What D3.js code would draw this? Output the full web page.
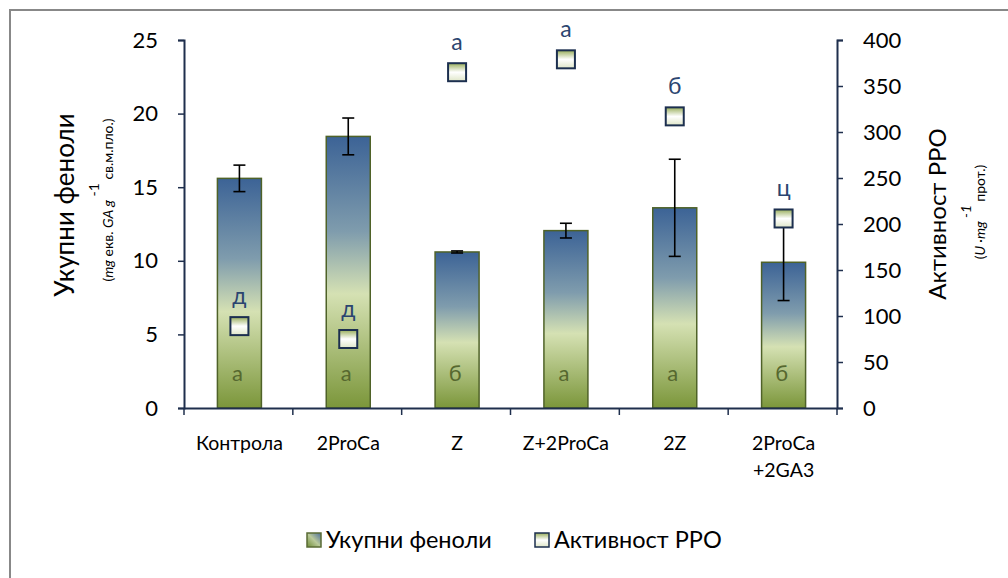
<!DOCTYPE html>
<html>
<head>
<meta charset="utf-8">
<script src="https://cdn.jsdelivr.net/npm/d3@7"></script>
<style>
  body { margin: 0; background: #fff; }
  svg { font-family: Lato, "Open Sans", sans-serif; }
</style>
</head>
<body>
<div id="chart"></div>
<script>
// Data
var categories = ["Контрола", "2ProCa", "Z", "Z+2ProCa", "2Z", "2ProCa\n+2GA3"];
var phenols = [15.6, 18.45, 10.6, 12.05, 13.6, 9.9];
var phenolsErr = [0.9, 1.25, 0.07, 0.5, 3.3, 2.6];
var phenolsLetters = ["а", "а", "б", "а", "а", "б"];
var ppo = [89, 75, 365, 379, 317, 206];
var ppoLetters = ["д", "д", "а", "а", "б", "ц"];
var leftTicks = [0, 5, 10, 15, 20, 25];
var rightTicks = [0, 50, 100, 150, 200, 250, 300, 350, 400];

var W = 1008, H = 578;
var plot = { left: 184, right: 837, top: 40, bottom: 408 };
var axisColor = "#1f2f4d";

var svg = d3.select("#chart").append("svg")
  .attr("width", W).attr("height", H);

// gradients
var defs = svg.append("defs");
var barGrad = defs.append("linearGradient").attr("id", "barGrad")
  .attr("x1", 0).attr("y1", 0).attr("x2", 0).attr("y2", 1);
[["0%", "#3c6396"], ["35%", "#7f9cad"], ["58%", "#d5e1b3"], ["100%", "#7b963a"]]
  .forEach(function (s) { barGrad.append("stop").attr("offset", s[0]).attr("stop-color", s[1]); });

var legGrad = defs.append("linearGradient").attr("id", "legGrad")
  .attr("x1", 0).attr("y1", 1).attr("x2", 1).attr("y2", 0);
[["0%", "#6f8c36"], ["50%", "#b9c99a"], ["100%", "#4d6f9c"]]
  .forEach(function (s) { legGrad.append("stop").attr("offset", s[0]).attr("stop-color", s[1]); });

var mkGrad = defs.append("linearGradient").attr("id", "mkGrad")
  .attr("x1", 0).attr("y1", 0).attr("x2", 0).attr("y2", 1);
[["0%", "#98ad5a"], ["50%", "#ffffff"], ["100%", "#dfe6c8"]]
  .forEach(function (s) { mkGrad.append("stop").attr("offset", s[0]).attr("stop-color", s[1]); });

// outer frame
svg.append("rect")
  .attr("x", 10).attr("y", 10).attr("width", W).attr("height", H)
  .attr("fill", "none").attr("stroke", "#888").attr("stroke-width", 2);

// scales
var x = d3.scaleBand().domain(categories).range([plot.left, plot.right]).paddingInner(0).paddingOuter(0);
var yL = d3.scaleLinear().domain([0, 25]).range([plot.bottom, plot.top]);
var yR = d3.scaleLinear().domain([0, 400]).range([plot.bottom, plot.top]);
var barW = 44;
function cx(i) { return x(categories[i]) + x.bandwidth() / 2 + 1; }

// bars
svg.selectAll("rect.bar").data(phenols).enter().append("rect")
  .attr("class", "bar")
  .attr("x", function (d, i) { return cx(i) - barW / 2; })
  .attr("y", function (d) { return yL(d); })
  .attr("width", barW)
  .attr("height", function (d) { return yL(0) - yL(d); })
  .attr("fill", "url(#barGrad)")
  .attr("stroke", "#4f6228").attr("stroke-width", 1.5);

// error bars
svg.selectAll("g.err").data(phenols).enter().append("g")
  .attr("stroke", "#000").attr("stroke-width", 1.6)
  .each(function (d, i) {
    var g = d3.select(this), c = cx(i);
    var lo = yL(d - phenolsErr[i]), hi = yL(d + phenolsErr[i]);
    g.append("line").attr("x1", c).attr("x2", c).attr("y1", lo).attr("y2", hi);
    g.append("line").attr("x1", c - 6).attr("x2", c + 6).attr("y1", lo).attr("y2", lo);
    g.append("line").attr("x1", c - 6).attr("x2", c + 6).attr("y1", hi).attr("y2", hi);
  });

// letters in bars
svg.selectAll("text.barLetter").data(phenolsLetters).enter().append("text")
  .attr("x", function (d, i) { return cx(i) - 2; })
  .attr("y", yL(0) - 27)
  .attr("text-anchor", "middle")
  .attr("font-size", 22)
  .attr("fill", "#56682f")
  .text(function (d) { return d; });

// PPO markers
var mk = 18;
svg.selectAll("rect.mk").data(ppo).enter().append("rect")
  .attr("x", function (d, i) { return cx(i) - mk / 2; })
  .attr("y", function (d) { return yR(d) - mk / 2; })
  .attr("width", mk).attr("height", mk)
  .attr("fill", "url(#mkGrad)")
  .attr("stroke", "#1c2f4f").attr("stroke-width", 2);

svg.selectAll("text.ppoLetter").data(ppoLetters).enter().append("text")
  .attr("x", function (d, i) { return cx(i); })
  .attr("y", function (d, i) { return yR(ppo[i]) - 22; })
  .attr("text-anchor", "middle")
  .attr("font-size", 23)
  .attr("fill", "#2b4570")
  .text(function (d) { return d; });

// axes
function styleAxis(g) {
  g.selectAll("path").attr("stroke", axisColor).attr("stroke-width", 2);
  g.selectAll("line").attr("stroke", axisColor).attr("stroke-width", 1.5);
  g.selectAll("text").attr("fill", "#000").attr("font-size", 22)
    .attr("font-family", "Lato, 'Open Sans', sans-serif");
}
var gl = svg.append("g").attr("transform", "translate(" + plot.left + ",0)")
  .call(d3.axisLeft(yL).tickValues(leftTicks).tickSize(6).tickSizeOuter(6).tickPadding(20));
styleAxis(gl);
var gr = svg.append("g").attr("transform", "translate(" + plot.right + ",0)")
  .call(d3.axisRight(yR).tickValues(rightTicks).tickSize(6).tickSizeOuter(6).tickPadding(20));
styleAxis(gr);

var gx = svg.append("g").attr("transform", "translate(0," + plot.bottom + ")")
  .call(d3.axisBottom(x).tickSize(0).tickFormat(""));
styleAxis(gx);
// category boundary ticks
var bounds = categories.map(function (c) { return x(c); }).concat([plot.right]);
svg.selectAll("line.xtick").data(bounds).enter().append("line")
  .attr("x1", function (d) { return d; }).attr("x2", function (d) { return d; })
  .attr("y1", plot.bottom).attr("y2", plot.bottom + 7)
  .attr("stroke", axisColor).attr("stroke-width", 1.5);

// category labels
svg.selectAll("text.cat").data(categories).enter().append("text")
  .attr("x", function (d, i) { return cx(i); })
  .attr("y", 450)
  .attr("text-anchor", "middle")
  .attr("font-size", 19.5)
  .each(function (d) {
    var self = d3.select(this);
    d.split("\n").forEach(function (line, k) {
      self.append("tspan").attr("x", self.attr("x")).attr("dy", k === 0 ? 0 : 27).text(line);
    });
  });

// left axis titles
svg.append("text")
  .attr("transform", "translate(74,205) rotate(-90)")
  .attr("text-anchor", "middle").attr("font-size", 26)
  .text("Укупни феноли");
var lsub = svg.append("text")
  .attr("transform", "translate(113,200) rotate(-90)")
  .attr("text-anchor", "middle").attr("font-size", 14);
lsub.append("tspan").text("(");
lsub.append("tspan").attr("font-style", "italic").text("mg");
lsub.append("tspan").text(" екв. ");
lsub.append("tspan").attr("font-style", "italic").text("GA g");
lsub.append("tspan").attr("dy", -14).text(" -1 ");
lsub.append("tspan").attr("dy", 14).text(" св.м.пло.)");

// right axis titles
svg.append("text")
  .attr("transform", "translate(946,214) rotate(-90)")
  .attr("text-anchor", "middle").attr("font-size", 24)
  .text("Активност PPO");
var rsub = svg.append("text")
  .attr("transform", "translate(985,212) rotate(-90)")
  .attr("text-anchor", "middle").attr("font-size", 14);
rsub.append("tspan").text("(");
rsub.append("tspan").attr("font-style", "italic").text("U ·mg");
rsub.append("tspan").attr("dy", -14).attr("font-style", "italic").text(" -1 ");
rsub.append("tspan").attr("dy", 14).text("   прот.)");

// legend
var legend = [
  { label: "Укупни феноли", fill: "url(#legGrad)", stroke: "#5a6b35", x: 307 },
  { label: "Активност PPO", fill: "url(#mkGrad)", stroke: "#1c2f4f", x: 535 }
];
var lg = svg.selectAll("g.leg").data(legend).enter().append("g")
  .attr("transform", function (d) { return "translate(" + d.x + ",533)"; });
lg.append("rect").attr("width", 14).attr("height", 14)
  .attr("fill", function (d) { return d.fill; })
  .attr("stroke", function (d) { return d.stroke; }).attr("stroke-width", 1.5);
lg.append("text").attr("x", 19).attr("y", 15).attr("font-size", 23.5)
  .text(function (d) { return d.label; });
</script>
</body>
</html>
